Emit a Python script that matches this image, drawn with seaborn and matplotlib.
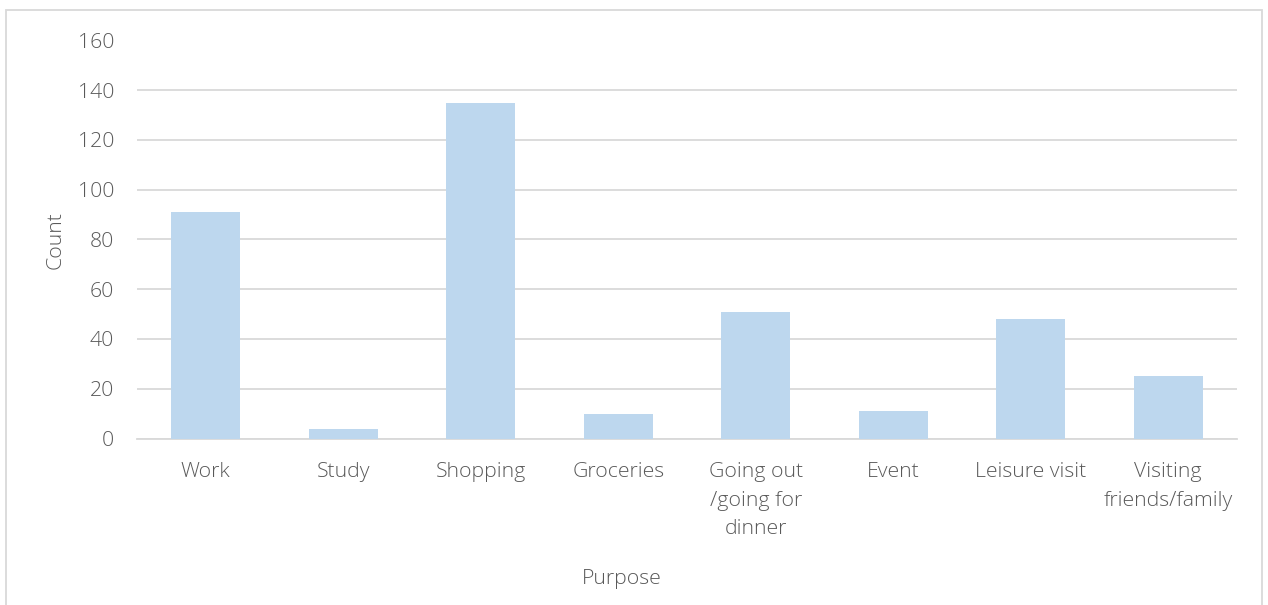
import matplotlib
matplotlib.use("Agg")
import matplotlib.pyplot as plt
import seaborn as sns
import pandas as pd
from matplotlib.patches import Rectangle

categories = ["Work", "Study", "Shopping", "Groceries", "Going out\n/going for\ndinner",
              "Event", "Leisure visit", "Visiting\nfriends/family"]
counts = [91, 4, 135, 10, 51, 11, 48, 25]
yticks = [0, 20, 40, 60, 80, 100, 120, 140, 160]

sns.set_theme(style="white")
plt.rcParams['font.family'] = ['Open Sans', 'DejaVu Sans']
plt.rcParams['font.weight'] = 'light'
text_color = "#595959"
fs = 15.3

df = pd.DataFrame({"Purpose": categories, "Count": counts})

fig = plt.figure(figsize=(12.68, 6.05), dpi=100)
ax = fig.add_axes([137/1268, 1 - 438.5/605, 1100/1268, 398/605])

sns.barplot(data=df, x="Purpose", y="Count", color="#BDD7EE", width=0.5,
            saturation=1, ax=ax, zorder=3, linewidth=0)

ax.set_ylim(0, 160)
ax.set_xlim(-0.5, len(categories) - 0.5)
ax.set_yticks(yticks)
ax.set_yticklabels([str(t) for t in yticks])
ax.yaxis.grid(True, color="#D9D9D9", linewidth=1.3, zorder=0)
ax.set_axisbelow(True)
for s in ["top", "right", "left"]:
    ax.spines[s].set_visible(False)
ax.spines["bottom"].set_color("#D9D9D9")
ax.spines["bottom"].set_linewidth(1.3)
ax.tick_params(axis="both", length=0, labelsize=fs, colors=text_color)
ax.tick_params(axis="x", pad=17)
ax.tick_params(axis="y", pad=16.5)
for lab in ax.get_xticklabels() + ax.get_yticklabels():
    lab.set_fontweight("light")
for lab in ax.get_xticklabels():
    lab.set_linespacing(1.56)
    lab.set_verticalalignment("top")

ax.set_xlabel("Purpose", fontsize=fs, color=text_color, fontweight="light")
ax.set_ylabel("Count", fontsize=fs, color=text_color, fontweight="light")
ax.xaxis.set_label_coords((622 - 137) / 1100, -(569 - 438.5) / 398)
ax.yaxis.set_label_coords(-(137 - 66) / 1100, (438.5 - 240) / 398)

# chart border (Excel chart area)
fig.add_artist(Rectangle((6/1268, -0.05), (1262-6)/1268, 1.05 - 10/605,
                         transform=fig.transFigure, fill=False,
                         edgecolor="#D9D9D9", linewidth=1.3))

fig.savefig("out.png", dpi=100, facecolor="white")
